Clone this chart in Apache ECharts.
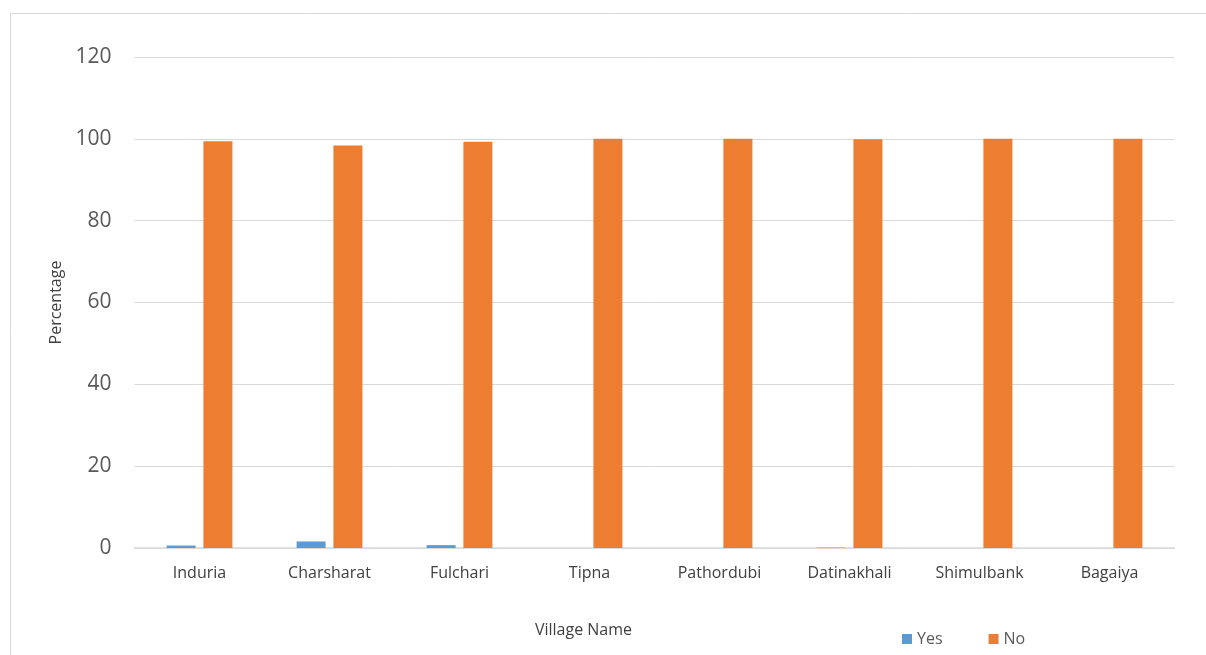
<!DOCTYPE html>
<html>
<head>
<meta charset="utf-8">
<script src="https://cdn.jsdelivr.net/npm/echarts@6/dist/echarts.min.js"></script>
<style>
  html, body { margin: 0; padding: 0; background: #fff; }
  #chart { width: 1206px; height: 655px; }
</style>
</head>
<body>
<div id="chart"></div>
<script>
// Share of households answering Yes / No in each village
const villages = ['Induria', 'Charsharat', 'Fulchari', 'Tipna', 'Pathordubi', 'Datinakhali', 'Shimulbank', 'Bagaiya'];
const yesValues = [0.6, 1.6, 0.7, 0, 0, 0.1, 0, 0];
const noValues = [99.4, 98.4, 99.3, 100, 100, 99.9, 100, 100];
const seriesNames = ['Yes', 'No'];

const FONT = '"Open Sans", sans-serif';
const chart = echarts.init(document.getElementById('chart'), null, { renderer: 'canvas' });

chart.setOption({
  backgroundColor: '#ffffff',
  animation: false,
  color: ['#5B9BD5', '#ED7D31'],
  graphic: [{
    type: 'rect',
    shape: { x: 10.5, y: 13.5, width: 1210, height: 660 },
    style: { fill: 'none', stroke: '#d9d9d9', lineWidth: 1 },
    silent: true
  }],
  grid: { left: 134.5, right: 31.5, top: 57, bottom: 107, containLabel: false },
  legend: {
    data: seriesNames,
    left: 897,
    top: 626,
    itemWidth: 10,
    itemHeight: 10,
    itemGap: 46,
    icon: 'rect',
    textStyle: { fontFamily: FONT, fontSize: 16, color: '#595959' }
  },
  xAxis: {
    type: 'category',
    data: villages,
    name: 'Village Name',
    nameLocation: 'middle',
    nameGap: 74,
    nameTextStyle: { fontFamily: FONT, fontSize: 16, color: '#404040', padding: [0, 142, 0, 0] },
    axisLine: { lineStyle: { color: '#d9d9d9', width: 1.5 } },
    axisTick: { show: false },
    axisLabel: { fontFamily: FONT, fontSize: 16, color: '#404040', margin: 17 }
  },
  yAxis: {
    type: 'value',
    min: 0,
    max: 120,
    interval: 20,
    name: 'Percentage',
    nameLocation: 'middle',
    nameGap: 70,
    nameRotate: 90,
    nameTextStyle: { fontFamily: FONT, fontSize: 16, color: '#404040' },
    axisLine: { show: false },
    axisTick: { show: false },
    axisLabel: { fontFamily: FONT, fontSize: 21, color: '#595959', margin: 23 },
    splitLine: { lineStyle: { color: '#d9d9d9', width: 1 } }
  },
  series: [
    { name: seriesNames[0], type: 'bar', data: yesValues, barWidth: 29, barGap: '27%' },
    { name: seriesNames[1], type: 'bar', data: noValues, barWidth: 29, barGap: '27%' }
  ]
});
</script>
</body>
</html>
